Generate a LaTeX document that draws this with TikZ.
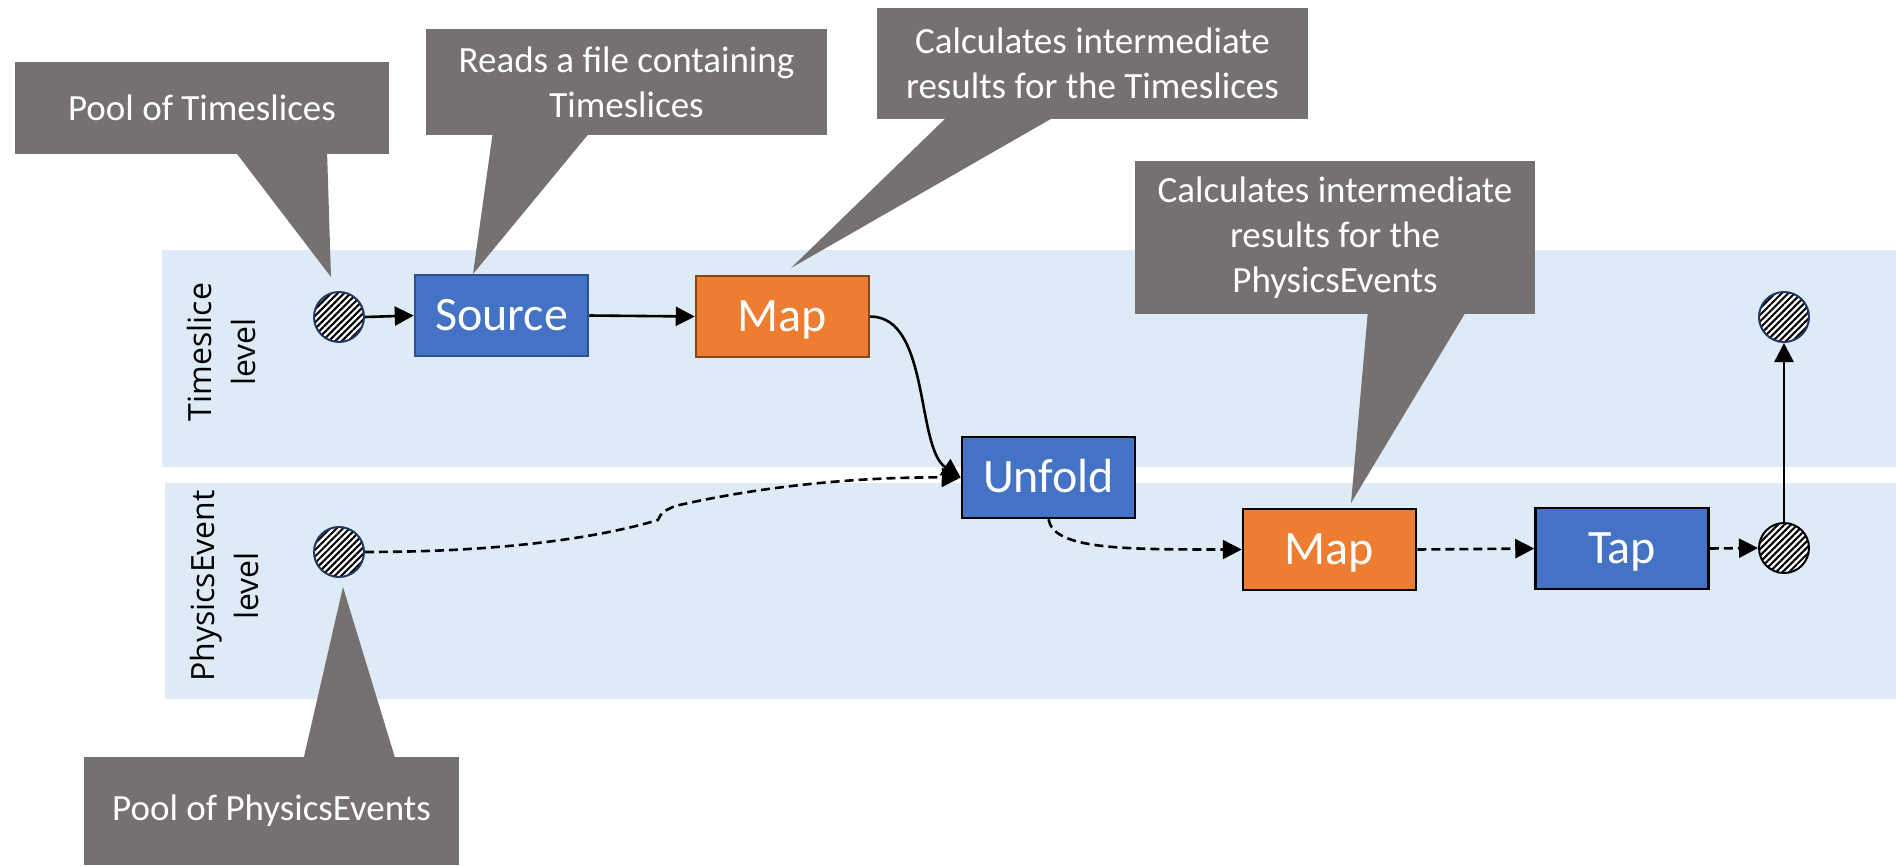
\documentclass[tikz,border=0pt]{standalone}
\usepackage{fontspec}
\setmainfont{Carlito}
\newfontfamily\labelfont{Open Sans}
\usetikzlibrary{arrows.meta,patterns.meta}
\definecolor{bandblue}{RGB}{222,235,247}
\definecolor{callgray}{RGB}{118,113,113}
\definecolor{boxblue}{RGB}{68,114,196}
\definecolor{boxorange}{RGB}{237,125,49}
\definecolor{navyb}{RGB}{32,56,100}
\definecolor{srcborder}{RGB}{47,82,143}
\definecolor{brownb}{RGB}{132,70,30}
\begin{document}
\begin{tikzpicture}[x=1pt,y=-1pt,
  band/.style={fill=bandblue},
  callout/.style={fill=callgray, text=white, font=\fontsize{37}{45}\selectfont, align=center, inner sep=0pt},
  pointer/.style={fill=callgray},
  proc/.style={line width=2.5pt, text=white, font=\fontsize{48}{56}\selectfont, minimum width=173pt, minimum height=81pt, inner sep=0pt, text height=30pt, text depth=0pt},
  blueproc/.style={proc, fill=boxblue, draw=black},
  orangeproc/.style={proc, fill=boxorange, draw=black},
  pool/.style={circle, minimum size=50pt, inner sep=0pt, line width=2pt, draw=navyb, preaction={fill=white}, pattern={Lines[angle=45,distance=4.6pt,line width=2.1pt]}, pattern color=black},
  lvl/.style={rotate=90, align=center, font=\labelfont\fontsize{32}{44}\selectfont, inner sep=0pt},
  conn/.style={line width=2.6pt, -{Triangle[length=19pt,width=19pt]}},
  dashconn/.style={conn, dash pattern=on 9pt off 5pt}
]
\useasboundingbox (0,0) rectangle (1896,865);
\fill[white] (0,0) rectangle (1896,865);

% level bands
\fill[band] (162,250) rectangle (1896,467);
\fill[band] (165,483) rectangle (1896,699);
\node[lvl] (lts) at (221,352) {Timeslice\\level};
\node[lvl] (lpe) at (224,586) {PhysicsEvent\\level};

% callout pointers
\fill[pointer] (234,150) -- (331,277) -- (327,150) -- cycle;
\fill[pointer] (493,131) -- (473,274) -- (591,131) -- cycle;
\fill[pointer] (948,116) -- (791,268) -- (1056,116) -- cycle;
\fill[pointer] (1368,310) -- (1351,503) -- (1467,310) -- cycle;
\fill[pointer] (303,761) -- (343,587) -- (396,761) -- cycle;

% callouts
\node[callout, minimum width=374pt, minimum height=92pt] (c1) at (202,108) {Pool of Timeslices};
\node[callout, minimum width=401pt, minimum height=106pt] (c2) at (626.5,82) {Reads a file containing\\Timeslices};
\node[callout, minimum width=431pt, minimum height=111pt] (c3) at (1092.5,63.5) {Calculates intermediate\\results for the Timeslices};
\node[callout, minimum width=400pt, minimum height=153pt] (c4) at (1335,237.5) {Calculates intermediate\\results for the\\PhysicsEvents};
\node[callout, minimum width=375pt, minimum height=108pt] (c5) at (271.5,811) {Pool of PhysicsEvents};

% pools
\node[pool] (pts) at (339,317) {};
\node[pool] (ppe) at (339,552) {};
\node[pool] (outts) at (1784,317) {};
\node[pool, draw=black] (outpe) at (1784,548) {};

% processing nodes
\node[blueproc, draw=srcborder] (src) at (501.5,315.5) {Source};
\node[orangeproc, draw=brownb] (mapts) at (782.5,316.5) {Map};
\node[blueproc] (unf) at (1048.5,477.5) {Unfold};
\node[orangeproc] (mappe) at (1329.5,549.5) {Map};
\node[blueproc] (tap) at (1622,548.5) {Tap};

% connectors
\draw[conn] (pts.east) -- (src.west);
\draw[conn] (src.east) -- (mapts.west);
\draw[conn] (mapts.east) .. controls +(60,0) and +(-45,-30) .. (unf.west);
\draw[dashconn] (ppe.east) .. controls +(150,0) and +(-50,15) .. (658,520) .. controls (662,512) .. (675,506) .. controls (780,482) and (880,477) .. (unf.west);
\draw[dashconn] (unf.south) .. controls +(5,30) and +(-120,0) .. (mappe.west);
\draw[dashconn] (mappe.east) -- (tap.west);
\draw[dashconn] (tap.east) -- (outpe.west);
\draw[conn] (outpe.north) -- (outts.south);
\end{tikzpicture}
\end{document}
